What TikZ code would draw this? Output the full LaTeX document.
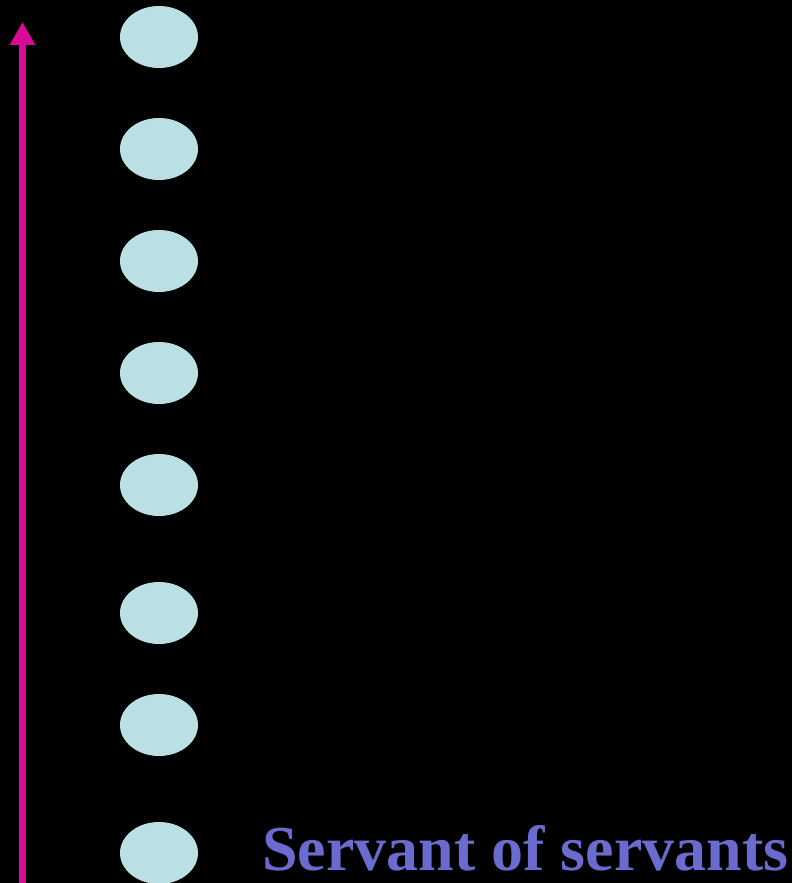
\documentclass[tikz,border=0pt]{standalone}
\usepackage{fontspec}
\setmainfont{Liberation Serif}
\usetikzlibrary{shapes.geometric,arrows.meta}
\definecolor{dotfill}{RGB}{187,224,227}
\definecolor{arrowmag}{RGB}{218,10,150}
\definecolor{labelblue}{RGB}{107,107,207}
\tikzset{
  dot/.style={ellipse, fill=dotfill, draw=none, minimum width=78pt, minimum height=62pt, inner sep=0pt},
  rankarrow/.style={draw=arrowmag, line width=7pt, -{Triangle[width=24pt,length=23pt]}},
  label/.style={text=labelblue, font=\bfseries\fontsize{64}{70}\selectfont, anchor=base west, inner sep=0pt}
}
\begin{document}
\begin{tikzpicture}[x=1pt,y=-1pt]
\useasboundingbox (0,0) rectangle (792,883);
\fill[black] (0,0) rectangle (792,883);
\node[dot] (e1) at (159,37) {};
\node[dot] (e2) at (159,149) {};
\node[dot] (e3) at (159,261) {};
\node[dot] (e4) at (159,373) {};
\node[dot] (e5) at (159,485) {};
\node[dot] (e6) at (159,613) {};
\node[dot] (e7) at (159,725) {};
\node[dot] (e8) at (159,853) {};
\coordinate (abot) at (22.5,890);
\coordinate (atop) at (22.5,22);
\draw[rankarrow] (abot) -- (atop);
\node[label] (txt) at (262,870) {Servant of servants};
\end{tikzpicture}
\end{document}
